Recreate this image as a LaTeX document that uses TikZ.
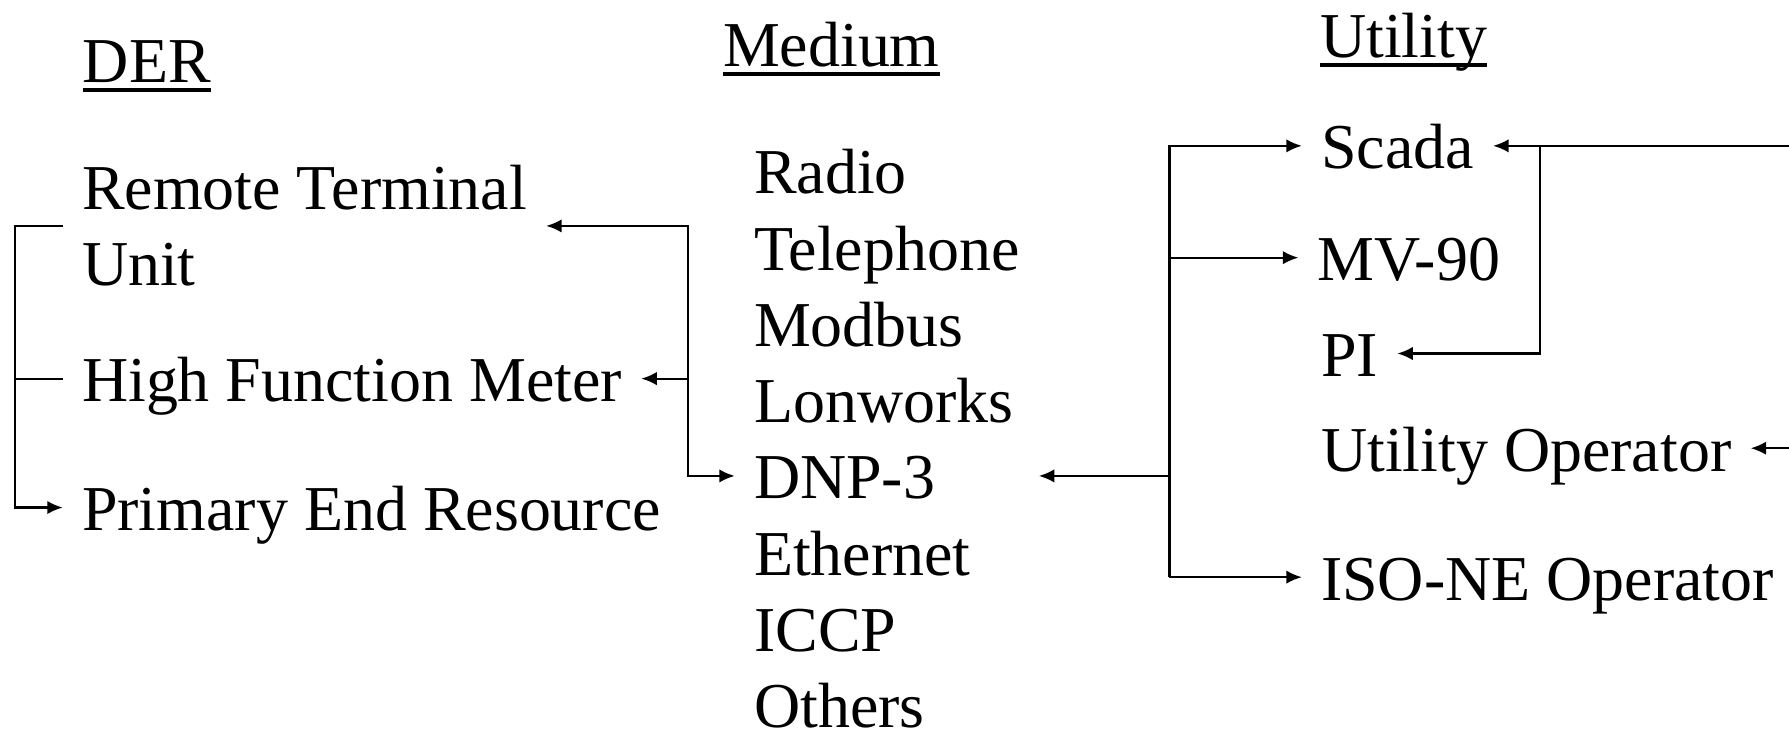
\documentclass[tikz,border=0pt]{standalone}
\usepackage{fontspec}
\setmainfont{Liberation Serif}
\usetikzlibrary{positioning,arrows.meta}

\begin{document}
\begin{tikzpicture}[x=0.01141cm,y=-0.01141cm,
  >={Latex[length=4.4pt,width=3.8pt]},line width=0.6pt,
  txt/.style={font=\fontsize{18.2}{21.7}\selectfont,inner xsep=5.5pt,inner ysep=0pt,outer sep=0pt},
  item/.style={txt,text height=13.1pt,text depth=0pt},
  head/.style={txt,inner xsep=0pt},
  uline/.style={line width=1.15pt}]
  \useasboundingbox (0,0) rectangle (1568,643);
  % column heads
  \node[head,anchor=base west] (der) at (72.7,72.7) {DER};
  \node[head,anchor=base west] (med) at (633.7,58.7) {Medium};
  \node[head,anchor=base west] (utl) at (1157,50.8) {Utility};
  \foreach \h in {der,med,utl}
    \draw[uline] ([yshift=-2.1pt]\h.base west) -- ([yshift=-2.1pt]\h.base east);
  % DER side
  \node[txt,align=left,anchor=west] (rtu) at (55,198) {Remote Terminal\\Unit};
  \node[item,anchor=base west] (hfm) at (55,352) {High Function Meter};
  \node[item,anchor=base west] (per) at (55,465) {Primary End Resource};
  % medium list
  \node[item,anchor=base west] (radio) at (644,170) {Radio};
  \node[item,below=8.6pt of radio.south west,anchor=north west] (tel) {Telephone};
  \node[item,below=8.6pt of tel.south west,anchor=north west] (modbus) {Modbus};
  \node[item,below=8.6pt of modbus.south west,anchor=north west] (lon) {Lonworks};
  \node[item,below=8.6pt of lon.south west,anchor=north west] (dnp) {DNP-3};
  \node[item,below=8.6pt of dnp.south west,anchor=north west] (eth) {Ethernet};
  \node[item,below=8.6pt of eth.south west,anchor=north west] (iccp) {ICCP};
  \node[item,below=8.6pt of iccp.south west,anchor=north west] (others) {Others};
  % utility side
  \node[item,anchor=base west] (scada) at (1141,148) {Scada};
  \node[item,anchor=base west] (mv) at (1138,246) {MV-90};
  \node[item,anchor=base west] (pi) at (1141,330) {PI};
  \node[item,anchor=base west] (uo) at (1141,413) {Utility Operator};
  \node[item,anchor=base west] (iso) at (1141,526) {ISO-NE Operator};
  % bracket lines
  \coordinate (lb) at (13,0);
  \coordinate (mb) at (603,0);
  \coordinate (rb) at (1025,0);
  \coordinate (sb) at (1350,0);
  \coordinate (edge) at (1568,0);
  \draw[->] (rtu.west) -- (lb |- rtu.west) |- (per.west);
  \draw (lb |- hfm.west) -- (hfm.west);
  \draw[<->] (rtu.east) -- (mb |- rtu.east) |- (dnp.west);
  \draw[->] (mb |- hfm.east) -- (hfm.east);
  \draw[->] (rb |- dnp.west) -- (tel.east |- dnp.west);
  \draw[->] (rb |- iso.west) |- (scada.west);
  \draw[->] (rb |- mv.west) -- (mv.west);
  \draw[->] (rb |- iso.west) -- (iso.west);
  \draw[->] (edge |- scada.east) -- (scada.east);
  \draw[->] (sb |- scada.east) |- (pi.east);
  \draw[->] (edge |- uo.east) -- (uo.east);
\end{tikzpicture}
\end{document}
